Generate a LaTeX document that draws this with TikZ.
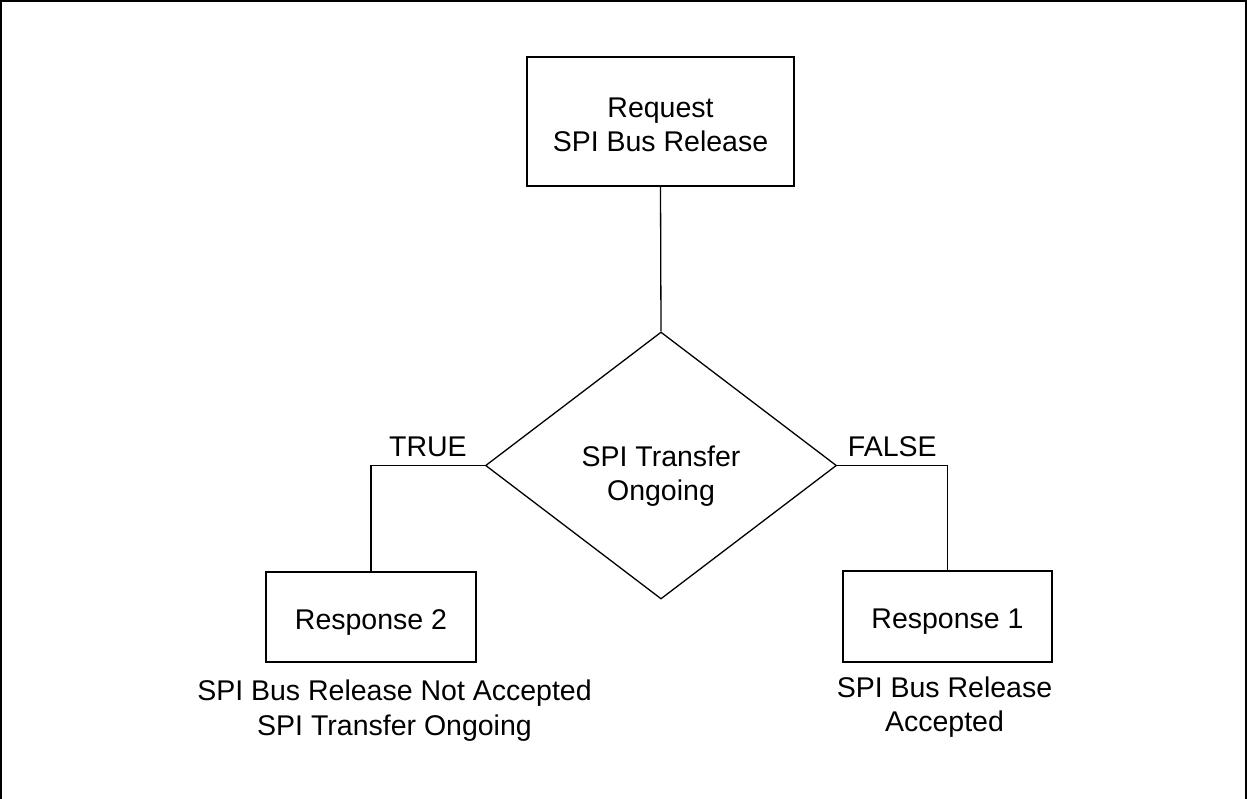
\documentclass[tikz,border=0pt]{standalone}
\usepackage{fontspec}
\setmainfont{Liberation Sans}
\usetikzlibrary{shapes.geometric}

\begin{document}
\begin{tikzpicture}[
    x=1pt, y=-1pt,
    font=\fontsize{28.5}{34.5}\selectfont,
    block/.style={rectangle, draw=black, line width=1.3pt, align=center},
    decision/.style={diamond, draw=black, line width=1.3pt, align=center, inner sep=0pt, minimum width=351pt, minimum height=267pt},
    note/.style={align=center},
    link/.style={draw=black, line width=1.3pt}
]

% Page and frame
\fill[white] (0,0) rectangle (1247,799);
\useasboundingbox (0,0) rectangle (1247,799);
\clip (0,0) rectangle (1247,799);
\draw[line width=2pt] (1,1) rectangle (1246,805);

% Request at the top
\node[block, minimum width=267pt, minimum height=129pt, text height=61pt] (request) at (660.5, 121.5) {Request\\SPI Bus Release};

% Decision
\node[decision, text height=76pt] (ongoing) at (661, 465.5) {SPI Transfer\\Ongoing};

% Responses
\node[block, minimum width=210pt, minimum height=90pt, text height=30pt] (resp2) at (371, 617) {Response 2};
\node[block, minimum width=209pt, minimum height=91pt, text height=30pt] (resp1) at (947.5, 616.5) {Response 1};

% Notes under the responses
\node[note] (resp2note) at (394.5, 710.5) {SPI Bus Release Not Accepted\\SPI Transfer Ongoing};
\node[note] (resp1note) at (944.5, 707) {SPI Bus Release\\Accepted};

% Connectors
\draw[link] (request.south) -- (ongoing.north);
\draw[link] (ongoing.west) -| node[pos=0.25, above=5pt] (truelabel) {TRUE} (resp2.north);
\draw[link] (ongoing.east) -| node[pos=0.25, above=5pt] (falselabel) {FALSE} (resp1.north);

\end{tikzpicture}
\end{document}
